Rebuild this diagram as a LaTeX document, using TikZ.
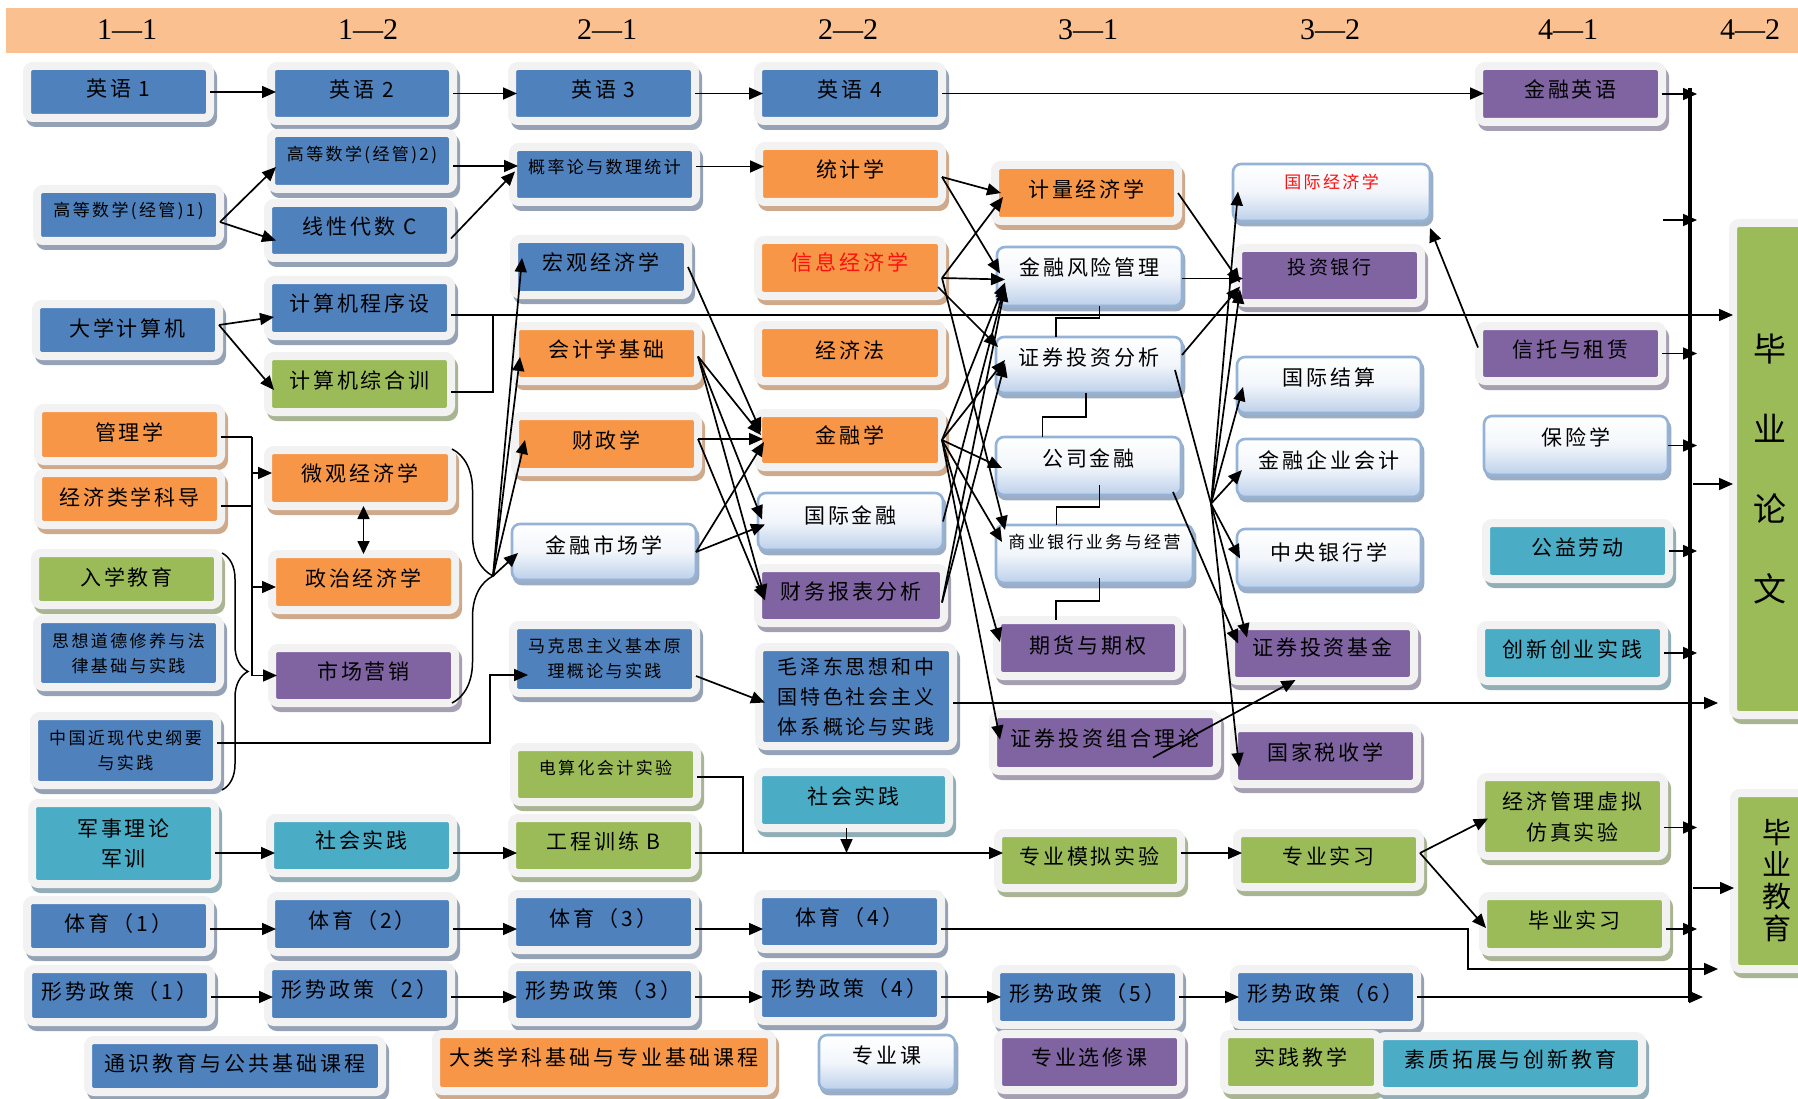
\documentclass[tikz,border=0pt]{standalone}
\usepackage{fontspec}
\setmainfont{Liberation Serif}
\newfontfamily\cjk[LetterSpace=14]{Noto Sans CJK SC}
\newfontfamily\cjkn{Noto Sans CJK SC}
\usetikzlibrary{arrows.meta,shadows,calc,decorations.pathreplacing}
\definecolor{cblue}{HTML}{4F81BD}
\definecolor{corange}{HTML}{F79646}
\definecolor{cgreen}{HTML}{9BBB59}
\definecolor{cpurple}{HTML}{8064A2}
\definecolor{cteal}{HTML}{4BACC6}
\definecolor{hdr}{HTML}{FAC090}
\definecolor{frameg}{HTML}{F2F2F2}
\definecolor{shB}{HTML}{95A2B6}
\definecolor{shO}{HTML}{CFA98B}
\definecolor{shG}{HTML}{A8B492}
\definecolor{shP}{HTML}{A69EB1}
\definecolor{shT}{HTML}{91ADB7}
\definecolor{shW}{HTML}{9CADC3}
\definecolor{wline}{HTML}{95B3D7}
\definecolor{wbot}{HTML}{BCD0EA}
\definecolor{tred}{HTML}{FF1010}
\tikzset{
  fN/.style={font=\cjk\fontsize{21}{27}\selectfont},
  fS/.style={font=\cjk\fontsize{17}{25}\selectfont},
  box/.style={rectangle, rounded corners=6pt, outer sep=0pt, inner sep=0pt, align=center,
    text=black, fN, text height=16pt, text depth=8pt},
  sm/.style={fS, text height=13pt, text depth=8pt},
  ml/.style={text height=, text depth=},
  tdp/.style={text depth=#1pt},
  sz/.style 2 args={minimum width=#1pt, minimum height=#2pt},
  cbox/.style 2 args={box, fill=#1, draw=frameg, line width=8pt,
    drop shadow={shadow xshift=3pt, shadow yshift=-5pt, opacity=1, fill=#2, draw=#2, line width=8pt}},
  bb/.style={cbox={cblue}{shB}},
  ob/.style={cbox={corange}{shO}},
  gb/.style={cbox={cgreen}{shG}},
  pb/.style={cbox={cpurple}{shP}},
  tb/.style={cbox={cteal}{shT}},
  wbx/.style={box, rounded corners=8pt, draw=wline, line width=2.6pt,
    top color=white, bottom color=wbot, middle color=white!80!wbot,
    drop shadow={shadow xshift=2pt, shadow yshift=-4pt, opacity=1, fill=shW, draw=shW, line width=2.6pt}},
  ln/.style={line width=1.7pt},
  arr/.style={ln, -{Triangle[length=14pt,width=12pt]}},
  arrin/.style={arr, shorten >=-5pt},
  dbl/.style={ln, {Triangle[length=13pt,width=12pt]}-{Triangle[length=13pt,width=12pt]}},
  brc/.style={line width=1.5pt, decorate},
  bus/.style={line width=3.2pt},
  hlab/.style={font=\fontsize{30}{30}\selectfont, inner sep=0pt}
}
\begin{document}
\begin{tikzpicture}[x=1pt,y=-1pt]
\useasboundingbox (0,0) rectangle (1798,1099);
\fill[white] (0,0) rectangle (1798,1099);
% header
\fill[hdr] (6,8) rectangle (1798,53);
\node[hlab] (h1) at (127,30) {1—1};
\node[hlab] (h2) at (368,30) {1—2};
\node[hlab] (h3) at (607,30) {2—1};
\node[hlab] (h4) at (848,30) {2—2};
\node[hlab] (h5) at (1088,30) {3—1};
\node[hlab] (h6) at (1330,30) {3—2};
\node[hlab] (h7) at (1568,30) {4—1};
\node[hlab] (h8) at (1750,30) {4—2};

% column 1
\node[bb, sz={183}{52}, tdp=6] (e1) at (118.5,92) {英语 1};
\node[bb, sz={183}{52}, sm, tdp=10] (m1) at (128.5,215) {高等数学(经管)1)};
\node[bb, sz={183}{52}, tdp=4] (dj) at (127.5,330) {大学计算机};
\node[ob, sz={183}{53}, tdp=5] (gl) at (129.5,434.5) {管理学};
\node[ob, sz={183}{52}, tdp=4] (jd) at (129.5,499) {经济类学科导};
\node[gb, sz={183}{52}, tdp=4] (rx) at (126.5,579) {入学教育};
\node[bb, sz={183}{68}, sm, ml] (sx) at (128.5,653) {思想道德修养与法\\律基础与实践};
\node[bb, sz={183}{69}, sm, ml] (zg) at (125.5,750.5) {中国近现代史纲要\\与实践};
\node[tb, sz={183}{81}, ml, font=\cjk\fontsize{21}{30}\selectfont] (js) at (123.5,843.5) {军事理论\\军训};
\node[bb, sz={183}{52}, tdp=6] (ty1) at (118.5,926) {体育（1）};
\node[bb, sz={183}{53}] (xs1) at (119.5,995.5) {形势政策（1）};
\node[bb, sz={294}{52}, tdp=6] (L1) at (235,1066) {通识教育与公共基础课程};

% column 2
\node[bb, sz={182}{55}] (e2) at (362,93.5) {英语 2};
\node[bb, sz={182}{56}, sm, tdp=14] (m2) at (362,161) {高等数学(经管)2)};
\node[bb, sz={183}{55}] (xd) at (359.5,230.5) {线性代数 C};
\node[bb, sz={183}{56}, tdp=10] (jc) at (359.5,308) {计算机程序设};
\node[gb, sz={183}{56}] (jz) at (359.5,384) {计算机综合训};
\node[ob, sz={184}{56}, tdp=10] (wg) at (360,478) {微观经济学};
\node[ob, sz={183}{56}] (zz) at (363.5,582) {政治经济学};
\node[pb, sz={183}{55}] (sc) at (363.5,675.5) {市场营销};
\node[tb, sz={183}{55}, tdp=11] (sj1) at (361.5,845.5) {社会实践};
\node[bb, sz={182}{56}] (ty2) at (362,924) {体育（2）};
\node[bb, sz={183}{56}, tdp=10] (xs2) at (359.5,994) {形势政策（2）};

% column 3
\node[bb, sz={183}{55}] (e3) at (603.5,93.5) {英语 3};
\node[bb, sz={183}{55}, sm, tdp=15] (gl2) at (604.5,174.5) {概率论与数理统计};
\node[bb, sz={174}{56}, tdp=10] (hg) at (601,267) {宏观经济学};
\node[ob, sz={183}{55}] (kj) at (606.5,353.5) {会计学基础};
\node[ob, sz={183}{56}] (cz) at (606.5,444) {财政学};
\node[wbx, sz={184}{56}, tdp=14] (jrsc) at (604,552) {金融市场学};
\node[bb, sz={183}{68}, sm, ml] (mk) at (604.5,659) {马克思主义基本原\\理概论与实践};
\node[gb, sz={183}{55}, sm, tdp=13] (dsh) at (605.5,774.5) {电算化会计实验};
\node[gb, sz={183}{55}] (gc) at (603.5,845.5) {工程训练 B};
\node[bb, sz={183}{56}] (ty3) at (603.5,922) {体育（3）};
\node[bb, sz={183}{55}, tdp=9] (xs3) at (603.5,994.5) {形势政策（3）};
\node[ob, sz={336}{57}, tdp=11] (L2) at (604,1062.5) {大类学科基础与专业基础课程};

% column 4
\node[bb, sz={184}{55}] (e4) at (850,93.5) {英语 4};
\node[ob, sz={183}{56}] (tj) at (850.5,174) {统计学};
\node[ob, sz={184}{56}, tdp=10, text=tred] (xx) at (850,268) {信息经济学};
\node[ob, sz={184}{56}, tdp=6] (jjf) at (850,353) {经济法};
\node[ob, sz={184}{54}, tdp=10] (jrx) at (850,440) {金融学};
\node[wbx, sz={185}{57}, tdp=13] (gjjr) at (850.5,521.5) {国际金融};
\node[pb, sz={186}{55}] (cw) at (851,595.5) {财务报表分析};
\node[bb, sz={194}{99}, ml, font=\cjk\fontsize{20}{30}\selectfont] (mz) at (856,696.5) {毛泽东思想和中\\国特色社会主义\\体系概论与实践};
\node[tb, sz={191}{56}] (sj2) at (853.5,800) {社会实践};
\node[bb, sz={183}{55}, tdp=9] (ty4) at (849.5,921.5) {体育（4）};
\node[bb, sz={183}{55}, tdp=11] (xs4) at (849.5,993.5) {形势政策（4）};
\node[wbx, sz={136}{55}, tdp=15] (L3) at (887,1062.5) {专业课};

% column 5
\node[ob, sz={183}{56}, tdp=6] (jl) at (1086.5,193) {计量经济学};
\node[wbx, sz={185}{59}, tdp=17] (fx) at (1089.5,276.5) {金融风险管理};
\node[wbx, sz={186}{56}, tdp=16] (zqfx) at (1089,365) {证券投资分析};
\node[wbx, sz={185}{58}, tdp=16] (gs) at (1088.5,466) {公司金融};
\node[wbx, sz={197}{58}, sm, tdp=24] (syyh) at (1094.5,554) {商业银行业务与经营};
\node[pb, sz={182}{56}, tdp=6] (qh) at (1088,648) {期货与期权};
\node[pb, sz={224}{57}, tdp=9] (zh) at (1105,742.5) {证券投资组合理论};
\node[gb, sz={183}{55}] (mn) at (1089.5,860.5) {专业模拟实验};
\node[bb, sz={183}{56}] (xs5) at (1087.5,997) {形势政策（5）};
\node[pb, sz={183}{56}, tdp=10] (L4) at (1089.5,1062) {专业选修课};

% column 6
\node[wbx, sz={197}{57}, sm, tdp=21, text=tred] (gjjj) at (1331.5,192.5) {国际经济学};
\node[pb, sz={183}{55}, font=\cjk\fontsize{19}{24}\selectfont, text height=14pt, tdp=17] (tzyh) at (1329.5,275.5) {投资银行};
\node[wbx, sz={184}{56}, tdp=16] (gjjs) at (1329,385) {国际结算};
\node[wbx, sz={184}{58}, tdp=16] (jrqy) at (1329,468) {金融企业会计};
\node[wbx, sz={184}{59}, tdp=13] (zyyh) at (1329,558.5) {中央银行学};
\node[pb, sz={183}{55}, tdp=13] (zqjj) at (1322.5,653.5) {证券投资基金};
\node[pb, sz={183}{56}] (gjss) at (1325.5,756) {国家税收学};
\node[gb, sz={183}{54}] (zysx) at (1328.5,860) {专业实习};
\node[bb, sz={183}{56}] (xs6) at (1325.5,997) {形势政策（6）};
\node[gb, sz={154}{56}, tdp=10] (L5) at (1301,1062) {实践教学};

% column 7
\node[pb, sz={183}{56}] (jryy) at (1570.5,94) {金融英语};
\node[pb, sz={183}{55}] (xt) at (1570.5,353.5) {信托与租赁};
\node[wbx, sz={184}{59}, tdp=17] (bx) at (1576,445.5) {保险学};
\node[tb, sz={183}{56}] (gy) at (1577.5,551) {公益劳动};
\node[tb, sz={183}{56}] (cx) at (1572.5,653) {创新创业实践};
\node[gb, sz={183}{79}, ml, font=\cjk\fontsize{21}{31}\selectfont] (fz) at (1572.5,816.5) {经济管理虚拟\\仿真实验};
\node[gb, sz={183}{56}] (bysx) at (1574.5,924) {毕业实习};
\node[tb, sz={263}{55}] (L6) at (1510.5,1063.5) {素质拓展与创新教育};

% right column
\node[gb, sz={74}{492}, ml, font=\cjkn\fontsize{33}{80}\selectfont] (lw) at (1770,469) {毕\\业\\论\\文};
\node[gb, sz={86}{176}, ml, font=\cjkn\fontsize{29}{32}\selectfont] (byjy) at (1777,881) {毕\\业\\教\\育};

% ---------- connectors ----------
% english
\draw[arrin] (e1.east) -- (e1.east -| e2.west);
\draw[arrin] (e2.east) -- (e2.east -| e3.west);
\draw[arrin] (e3.east) -- (e3.east -| e4.west);
\draw[arrin] (e4.east) -- (e4.east -| jryy.west);
% maths
\coordinate (m1o) at ($(m1.east)+(0,7)$);
\draw[arr] (m1o) -- ($(m2.west)+(5,6)$);
\draw[arr] (m1o) -- ($(xd.west)+(8,10)$);
\coordinate (m2o) at ($(m2.east)+(0,5)$);
\draw[arrin] (m2o) -- (m2o -| gl2.west);
\draw[arr] ($(xd.east)+(0,8)$) -- ($(gl2.west)+(2,-3)$);
\coordinate (g2o) at ($(gl2.east)+(0,-8)$);
\draw[arrin] (g2o) -- (g2o -| tj.west);
% computer
\coordinate (djo) at ($(dj.east)+(0,-5)$);
\draw[arr] (djo) -- ($(jc.west)+(6,9)$);
\draw[arr] (djo) -- ($(jz.west)+(6,6)$);
\coordinate (jco) at ($(jc.east)+(0,7)$);
\draw[arr] (jco) -- (jco -| lw.west);
\coordinate (jzj) at ($(jco)+(42,0)$);
\draw[ln] ($(jz.east)+(0,8)$) -| (jzj);
% left bus
\draw[ln] ($(gl.east)+(0,2.5)$) -- ++(31,0) coordinate (b1);
\coordinate (jdo) at ($(jd.east)+(0,7)$);
\draw[ln] (jdo) -- (jdo -| b1);
\draw[arrin] (b1) |- (sc.west);
\coordinate (wgi) at ($(wg.west)+(4,-5)$);
\draw[arr] (b1 |- wgi) -- (wgi);
\coordinate (zzi) at ($(zz.west)+(4,5)$);
\draw[arr] (b1 |- zzi) -- (zzi);
\draw[dbl] (zz.north |- wg.south) -- (zz.north);
% braces
\draw[brc, decoration={brace, amplitude=26pt}] (222,553) -- (222,790);
\draw[brc, decoration={brace, amplitude=41pt}] (452,449) -- (452,703);
\coordinate (bt) at (493,576);
\draw[arr] (bt) -- ($(hg.south west)+(8,-37)$);
\draw[arr] (bt) -- ($(kj.south west)+(5,-24)$);
\draw[arr] (bt) -- ($(cz.south west)+(10,-32)$);
\draw[arr] (bt) -- ($(jrsc.west)+(6,1)$);
% zg -> mk
\coordinate (mki) at ($(mk.west)+(15,16)$);
\draw[arr] ($(zg.east)+(0,-7.5)$) -| ($(mki)+(-38,0)$) -- (mki);
% column 3 -> column 4
\coordinate (kjo) at ($(kj.east)+(0,3)$);
\draw[arr] (hg.east) -- ($(jrx.west)+(3,-8)$);
\draw[arr] (kjo) -- ($(jrx.west)+(3,-5)$);
\draw[arr] (kjo) -- ($(gjjr.west)+(4,-2)$);
\draw[arr] (kjo) -- ($(cw.west)+(7,3)$);
\coordinate (czo) at ($(cz.east)+(0,-5)$);
\draw[arrin] (czo) -- (czo -| jrx.west);
\draw[arr] (czo) -- ($(cw.west)+(7,5)$);
\draw[arr] (jrsc.east) -- ($(jrx.west)+(6,2)$);
\draw[arr] (jrsc.east) -- ($(gjjr.west)+(7,3)$);
\draw[arr] ($(mk.east)+(0,17)$) -- ($(mz.west)+(6,6)$);
\coordinate (mzo) at ($(mz.east)+(0,6.5)$);
\coordinate (lwT) at (1718,969);
\draw[arr] (mzo) -- (mzo -| lwT);
% column 4 -> column 5
\coordinate (tjo) at ($(tj.east)+(0,3)$);
\draw[arr] (tjo) -- ($(jl.west)+(6,0)$);
\draw[arr] (tjo) -- ($(fx.west)+(3,-3)$);
\coordinate (xxo) at ($(xx.east)+(0,10)$);
\draw[arr] (xxo) -- ($(jl.west)+(8,4)$);
\draw[arr] (xxo) -- ($(fx.west)+(8,3)$);
\draw[arr] ($(xxo)+(-4,9)$) -- ($(zqfx.west)+(2,-18)$);
\draw[arr] (xxo) -- ($(syyh.west)+(9,-24)$);
\draw[arr] (jrx.east) -- ($(fx.west)+(8,6)$);
\draw[arr] (jrx.east) -- ($(zqfx.west)+(9,-5)$);
\draw[arr] (jrx.east) -- ($(gs.west)+(6,2)$);
\draw[arr] (jrx.east) -- ($(syyh.west)+(6,-12)$);
\draw[arr] (jrx.east) -- ($(qh.west)+(3,-6)$);
\draw[arr] (jrx.east) -- ($(zh.west)+(7,-3)$);
\draw[arr] (gjjr.east) -- ($(fx.west)+(8,8)$);
\coordinate (cwo) at ($(cw.east)+(-2,7)$);
\draw[arr] (cwo) -- ($(fx.west)+(8,11)$);
\draw[arr] (cwo) -- ($(zqfx.west)+(9,-2)$);
% steps in column 5
\draw[ln] ($(fx.south)+(10,0)$) -- ++(0,12) -| ($(zqfx.north)+(-33,0)$);
\draw[ln] ($(zqfx.south)+(-3,0)$) -- ++(0,24) -| ($(gs.north)+(-46,0)$);
\draw[ln] ($(gs.south)+(11,-10)$) -- ++(0,22) -| ($(syyh.north)+(-38,0)$);
\draw[ln] ($(syyh.south)+(5,-5)$) -- ++(0,23) -| ($(qh.north)+(-32,0)$);
% column 5 -> column 6
\draw[arr] (jl.east) -- ($(tzyh.west)+(2,7)$);
\coordinate (fxo) at ($(fx.east)+(0,2)$);
\draw[arrin] (fxo) -- (fxo -| tzyh.west);
\draw[arr] ($(zqfx.east)+(0,-10)$) -- ($(tzyh.west)+(2,11)$);
\coordinate (zqo) at ($(zqfx.east)+(-7,5)$);
\coordinate (zqi) at ($(zqjj.west)+(16,-16)$);
\draw[arr] (zqo) -- (zqi);
\coordinate (hub) at ($(zqo)!0.5!(zqi)$);
\draw[arr] (hub) -- ($(gjjj.west)+(5,-1)$);
\draw[arr] (hub) -- ($(tzyh.west)+(2,14)$);
\draw[arr] (hub) -- ($(gjjs.west)+(6,2)$);
\draw[arr] (hub) -- ($(jrqy.west)+(5,2)$);
\draw[arr] (hub) -- ($(zyyh.west)+(3,0)$);
\draw[arr] (hub) -- ($(gjss.west)+(5,11)$);
\draw[arr] ($(gs.south east)+(-8,-3)$) -- ($(zqjj.west)+(7,-10)$);
\draw[arr] ($(zh.center)+(48,15)$) -- ($(zqjj.south)+(-27,-1)$);
\draw[arr] ($(xt.west)+(-1,-6)$) -- ($(gjjj.south east)+(0,7)$);
% practice row
\coordinate (lineB) at ($(gc.east)+(0,7.5)$);
\draw[arrin] (js.east |- lineB) -- (sj1.west |- lineB);
\draw[arrin] (sj1.east |- lineB) -- (gc.west |- lineB);
\draw[arrin] (gc.east |- lineB) -- (mn.west |- lineB);
\draw[arrin] (mn.east |- lineB) -- (zysx.west |- lineB);
\draw[ln] ($(dsh.east)+(0,2.5)$) -| ($(lineB)+(48,0)$);
\draw[arr] ($(sj2.south)+(-7,0)$) coordinate (sjs) -- (sjs |- lineB);
\coordinate (zso) at ($(zysx.east)+(0,-7)$);
\draw[arr] (zso) -- ($(fz.west)+(7,2)$);
\draw[arr] (zso) -- ($(bysx.west)+(3,4)$);
% sports row
\coordinate (lineT) at ($(ty1.east)+(0,3)$);
\draw[arrin] (ty1.east |- lineT) -- (ty2.west |- lineT);
\draw[arrin] (ty2.east |- lineT) -- (ty3.west |- lineT);
\draw[arrin] (ty3.east |- lineT) -- (ty4.west |- lineT);
\coordinate (bendT) at (1468,929);
\draw[arr] (ty4.east |- lineT) -- (bendT) |- (lwT);
% policy row
\coordinate (lineX) at ($(xs1.east)+(0,1.5)$);
\draw[arrin] (xs1.east |- lineX) -- (xs2.west |- lineX);
\draw[arrin] (xs2.east |- lineX) -- (xs3.west |- lineX);
\draw[arrin] (xs3.east |- lineX) -- (xs4.west |- lineX);
\draw[arrin] (xs4.east |- lineX) -- (xs5.west |- lineX);
\draw[arrin] (xs5.east |- lineX) -- (xs6.west |- lineX);
\coordinate (xsE) at (1703,997);
\draw[arr] (xs6.east |- lineX) -- (xsE);
% right bus
\coordinate (busT) at (1690,88);
\coordinate (busB) at (1690,1002);
\draw[bus] (busT) -- (busB);
\coordinate (busA) at (1697,500);
\draw[arr] (jryy.east) -- (jryy.east -| busA);
\coordinate (fa) at (1663,220);
\draw[arr] (fa) -- (fa -| busA);
\draw[arr] (xt.east) -- (xt.east -| busA);
\draw[arr] (bx.east) -- (bx.east -| busA);
\draw[arr] (gy.east) -- (gy.east -| busA);
\draw[arr] (cx.east) -- (cx.east -| busA);
\coordinate (fzo) at ($(fz.east)+(0,11)$);
\draw[arr] (fzo) -- (fzo -| busA);
\draw[arr] (bysx.east |- lineT) -- (busA |- lineT);
\coordinate (blw) at (1693,484);
\draw[arr] (blw) -- (blw -| lw.west);
\coordinate (bby) at (1693,888);
\draw[arr] (bby) -- (bby -| byjy.west);
\end{tikzpicture}
\end{document}
